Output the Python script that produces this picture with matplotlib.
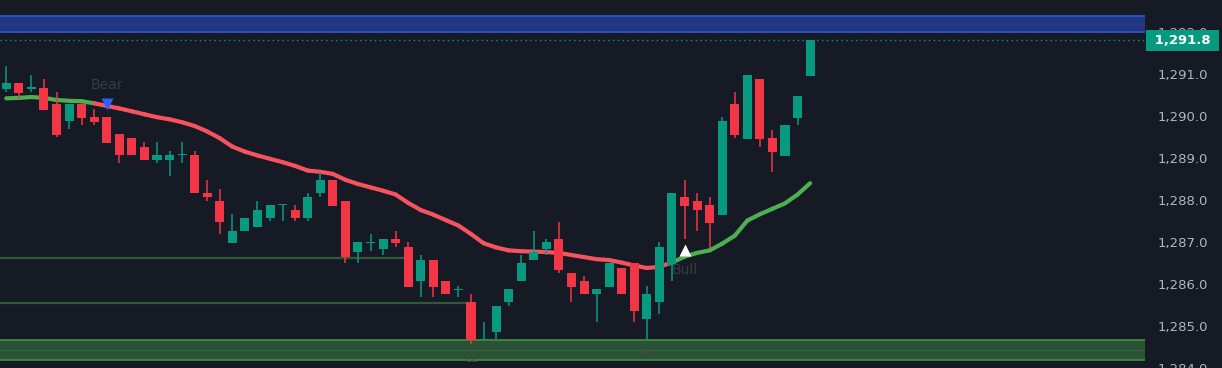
import numpy as np
import matplotlib
matplotlib.use('Agg')
import matplotlib.pyplot as plt
from matplotlib.transforms import blended_transform_factory

# OHLC values (one entry per bar)
opens = [1290.64, 1290.79, 1290.65, 1290.67, 1290.29, 1289.87, 1290.29, 1289.98, 1289.98, 1289.57,
         1289.48, 1289.27, 1288.96, 1288.96, 1289.06, 1289.08, 1288.17, 1287.98, 1286.97, 1287.25,
         1287.35, 1287.56, 1287.88, 1287.77, 1287.56, 1288.16, 1288.48, 1287.98, 1286.75, 1286.98,
         1286.84, 1287.08, 1286.87, 1286.07, 1286.58, 1286.08, 1285.85, 1285.58, 1284.67, 1284.85,
         1285.56, 1286.07, 1286.56, 1286.84, 1287.08, 1286.27, 1286.08, 1285.75, 1285.94, 1286.37,
         1286.49, 1285.16, 1285.56, 1286.46, 1288.08, 1287.98, 1287.89, 1287.65, 1290.29, 1289.46,
         1290.88, 1289.48, 1289.05, 1289.95, 1290.95]
highs = [1291.19, 1290.79, 1290.98, 1290.88, 1290.57, 1290.29, 1290.29, 1290.17, 1289.98, 1289.57,
         1289.48, 1289.38, 1289.38, 1289.17, 1289.38, 1289.17, 1288.48, 1288.27, 1287.67, 1287.58,
         1287.98, 1287.89, 1287.89, 1287.89, 1288.17, 1288.67, 1288.48, 1287.98, 1286.99, 1287.18,
         1287.08, 1287.27, 1286.99, 1286.68, 1286.58, 1286.08, 1285.96, 1285.77, 1285.09, 1285.47,
         1285.87, 1286.68, 1287.27, 1287.08, 1287.48, 1286.27, 1286.18, 1285.87, 1286.49, 1286.37,
         1286.49, 1285.96, 1286.99, 1288.17, 1288.48, 1288.17, 1288.08, 1289.98, 1290.57, 1290.98,
         1290.88, 1289.67, 1289.79, 1290.48, 1291.80]
lows = [1290.58, 1290.40, 1290.58, 1290.15, 1289.49, 1289.68, 1289.79, 1289.79, 1289.36, 1288.89,
        1289.06, 1288.96, 1288.89, 1288.58, 1288.89, 1288.16, 1287.98, 1287.18, 1286.97, 1287.25,
        1287.35, 1287.49, 1287.49, 1287.49, 1287.49, 1288.08, 1287.86, 1286.49, 1286.49, 1286.78,
        1286.68, 1286.87, 1285.94, 1285.68, 1285.68, 1285.75, 1285.68, 1284.56, 1284.67, 1284.68,
        1285.47, 1286.07, 1286.56, 1286.68, 1286.27, 1285.58, 1285.75, 1285.09, 1285.94, 1285.75,
        1285.09, 1284.68, 1285.28, 1286.08, 1287.08, 1287.27, 1286.84, 1287.65, 1289.48, 1289.46,
        1289.27, 1288.67, 1289.05, 1289.79, 1290.95]
closes = [1290.79, 1290.55, 1290.67, 1290.15, 1289.55, 1290.29, 1289.96, 1289.86, 1289.36, 1289.06,
          1289.06, 1288.96, 1289.08, 1289.08, 1289.08, 1288.16, 1288.06, 1287.47, 1287.27, 1287.58,
          1287.77, 1287.89, 1287.89, 1287.56, 1288.08, 1288.48, 1287.86, 1286.65, 1286.99, 1286.99,
          1287.08, 1286.97, 1285.94, 1286.58, 1285.94, 1285.75, 1285.87, 1284.66, 1284.68, 1285.47,
          1285.87, 1286.49, 1286.77, 1286.99, 1286.34, 1285.94, 1285.75, 1285.87, 1286.49, 1285.75,
          1285.35, 1285.77, 1286.87, 1288.17, 1287.86, 1287.75, 1287.46, 1289.88, 1289.55, 1290.98,
          1289.46, 1289.15, 1289.79, 1290.48, 1291.80]

# trend line (moving average) per bar
trend_ma = [1290.42, 1290.43, 1290.45, 1290.43, 1290.38, 1290.36, 1290.35, 1290.30, 1290.24, 1290.18,
            1290.11, 1290.04, 1289.97, 1289.92, 1289.85, 1289.76, 1289.63, 1289.47, 1289.27, 1289.15,
            1289.06, 1288.98, 1288.90, 1288.81, 1288.70, 1288.67, 1288.62, 1288.48, 1288.38, 1288.30,
            1288.22, 1288.13, 1287.93, 1287.76, 1287.65, 1287.52, 1287.39, 1287.19, 1286.97, 1286.87,
            1286.80, 1286.78, 1286.77, 1286.76, 1286.74, 1286.69, 1286.64, 1286.59, 1286.57, 1286.51,
            1286.44, 1286.38, 1286.41, 1286.51, 1286.65, 1286.74, 1286.80, 1286.96, 1287.15, 1287.51,
            1287.66, 1287.79, 1287.92, 1288.13, 1288.40]

bear_signal = 8       # first bearish bar
bull_signal = 54      # first bullish bar after that
bear_marker_price = 1290.29
bull_marker_price = 1286.80

supply_zone = (1292.00, 1292.38)
demand_zone = (1284.19, 1284.66)
levels = [(1286.61, 32), (1285.54, 37)]   # price, bar where the line ends
swing_labels = [("LL", 37, 1284.08), ("HL", 51, 1284.18)]
last_price = 1291.8
y_ticks = [1284.0, 1285.0, 1286.0, 1287.0, 1288.0, 1289.0, 1290.0, 1291.0, 1292.0]

BG = '#161a25'
UP = '#089981'
DOWN = '#f23645'

fig = plt.figure(figsize=(12.22, 3.68), dpi=100, facecolor=BG)
ax = fig.add_axes([0, 0, 1145 / 1222, 1])
ax.set_facecolor(BG)

n = len(closes)
x = np.arange(n)
o = np.array(opens)
c = np.array(closes)
colors = [UP if cc >= oo else DOWN for oo, cc in zip(o, c)]

# zones
ax.axhspan(supply_zone[0], supply_zone[1], color='#213681', lw=0, zorder=1)
ax.axhline(supply_zone[0], color='#2c55c9', lw=1.3, zorder=1.1)
ax.axhline(supply_zone[1], color='#2c55c9', lw=1.3, zorder=1.1)
ax.axhline(sum(supply_zone) / 2, color='#273f7c', lw=1.0, zorder=1.1)
ax.axhspan(demand_zone[0], demand_zone[1], color='#2c5236', lw=0, zorder=1)
ax.axhline(demand_zone[0], color='#3e8a45', lw=1.3, zorder=1.1)
ax.axhline(demand_zone[1], color='#3e8a45', lw=1.3, zorder=1.1)
ax.axhline(sum(demand_zone) / 2, color='#35603d', lw=1.0, zorder=1.1)

# liquidity levels
for price, end in levels:
    ax.hlines(price, -0.5, end, color='#2f5a36', lw=1.6, zorder=1.5)

# last price dotted line
ax.axhline(last_price, color=UP, lw=1.0, ls=(0, (1, 2.5)), zorder=1.5)

# trend line, coloured by state
state = ['bull' if (i < bear_signal or i >= bull_signal) else 'bear' for i in range(n)]
for i in range(1, n):
    col = '#4caf50' if state[i] == 'bull' else '#f7525f'
    ax.plot([i - 1, i], [trend_ma[i - 1], trend_ma[i]], color=col, lw=3.0,
            solid_capstyle='round', zorder=2)

# candles
ax.vlines(x, lows, highs, colors=colors, lw=1.1, zorder=3)
body_bottom = np.minimum(o, c)
body_height = np.maximum(np.abs(c - o), 0.03)
ax.bar(x, body_height, bottom=body_bottom, width=0.72, color=colors, lw=0, zorder=4)

# signals
ax.plot(bear_signal, bear_marker_price, marker='v', ms=8, color='#2962ff', mec='none', zorder=5)
ax.annotate('Bear', (bear_signal, bear_marker_price), xytext=(0, 13.5), textcoords='offset points',
            ha='center', va='center', color='#363a45', fontsize=10, zorder=5)
ax.plot(bull_signal, bull_marker_price, marker='^', ms=8, color='white', mec='none', zorder=5)
ax.annotate('Bull', (bull_signal, bull_marker_price), xytext=(0, -14), textcoords='offset points',
            ha='center', va='center', color='#363a45', fontsize=10, zorder=5)
for txt, i, p in swing_labels:
    ax.text(i, p + 0.13, txt, ha='center', va='center', color='#3f4d45', fontsize=7, zorder=1.2)

ax.set_xlim(-0.5, 90.66)
ax.set_ylim(1284.02, 1292.76)
ax.set_xticks([])
ax.yaxis.tick_right()
ax.set_yticks(y_ticks)
ax.set_yticklabels(['{:,.1f}'.format(t) for t in y_ticks])
ax.tick_params(axis='y', length=0, pad=9, labelsize=9.5, labelcolor='#b2b5be')
for s in ax.spines.values():
    s.set_visible(False)

# last price tag on the axis
tr = blended_transform_factory(ax.transAxes, ax.transData)
ax.text(1.004, last_price, ' {:,.1f} '.format(last_price), transform=tr, ha='left', va='center',
        color='white', fontsize=9.5, fontweight='bold', zorder=10, clip_on=False,
        bbox=dict(boxstyle='square,pad=0.3', fc=UP, ec='none'))

plt.savefig('out.png', dpi=100, facecolor=BG)
